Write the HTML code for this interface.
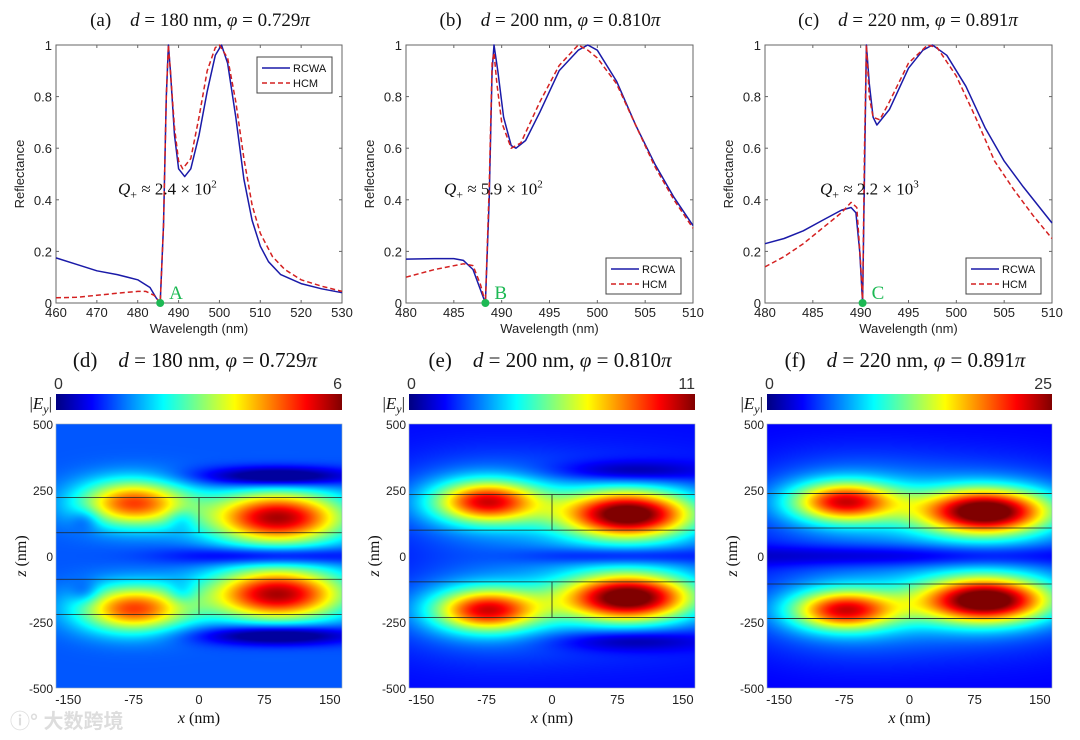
<!DOCTYPE html>
<html><head><meta charset="utf-8">
<style>
html,body{margin:0;padding:0;background:#fff;}
#wrap{position:relative;width:1080px;height:740px;overflow:hidden;}
canvas{position:absolute;}
svg{position:absolute;left:0;top:0;}
</style></head>
<body>
<div id="wrap">
<canvas id="hm-d"></canvas>
<canvas id="hm-e"></canvas>
<canvas id="hm-f"></canvas>
<svg id="fig" width="1080" height="740">
<defs>
<linearGradient id="jet" x1="0" x2="1" y1="0" y2="0">
<stop offset="0" stop-color="#000080"/><stop offset="0.125" stop-color="#0000ff"/>
<stop offset="0.375" stop-color="#00ffff"/><stop offset="0.625" stop-color="#ffff00"/>
<stop offset="0.875" stop-color="#ff0000"/><stop offset="1" stop-color="#800000"/>
</linearGradient>
</defs>
</svg>
</div>
<script>
// ---------- line chart data ----------
const xA_rcwa=[460,465,470,475,480,483,484.5,485.5,486.3,487,487.5,488,489,490,491.5,493,495,497,499,500.5,502,504,506,508,510,512,515,520,525,530];
const yA_rcwa=[0.175,0.15,0.125,0.11,0.09,0.06,0.02,0.0,0.3,0.8,1.0,0.9,0.65,0.52,0.49,0.52,0.65,0.82,0.96,1.0,0.93,0.72,0.48,0.32,0.22,0.16,0.11,0.075,0.055,0.04];
const xA_hcm=[460,465,470,475,480,482,484,485.5,486.3,487,487.5,488,489,490,491,493,495,497,499,500,502,504,506,508,510,513,516,520,525,530];
const yA_hcm=[0.02,0.022,0.03,0.038,0.045,0.045,0.03,0.0,0.3,0.8,1.0,0.9,0.68,0.55,0.52,0.56,0.72,0.9,0.99,1.0,0.95,0.78,0.56,0.38,0.27,0.18,0.13,0.09,0.065,0.045];
const xB_rcwa=[480,483,485,486,487,487.8,488.3,488.7,489,489.2,489.6,490.2,491,491.5,492.5,494,496,498,499,500,502,504,506,508,510];
const yB_rcwa=[0.17,0.172,0.172,0.165,0.13,0.05,0.0,0.4,0.9,1.0,0.9,0.72,0.61,0.6,0.63,0.74,0.9,0.98,1.0,0.98,0.86,0.69,0.54,0.41,0.3];
const xB_hcm=[480,483,486,487,487.8,488.3,488.7,489,489.2,489.5,490,491,492,494,496,498,499,500,502,504,506,508,510];
const yB_hcm=[0.1,0.13,0.152,0.145,0.07,0.0,0.45,0.93,0.97,0.85,0.7,0.6,0.62,0.78,0.92,1.0,0.98,0.95,0.85,0.69,0.53,0.4,0.29];
const xC_rcwa=[480,482,484,486,488,489,489.5,489.9,490.2,490.4,490.6,490.9,491.3,491.7,493,495,496.5,497.5,499,501,503,505,507,510];
const yC_rcwa=[0.23,0.25,0.28,0.32,0.36,0.37,0.35,0.2,0.0,0.5,1.0,0.85,0.72,0.69,0.75,0.91,0.98,1.0,0.96,0.84,0.68,0.55,0.45,0.31];
const xC_hcm=[480,482,484,486,488,489,489.6,490,490.2,490.4,490.6,490.9,491.3,492,493,495,497,498,500,502,504,506,508,510];
const yC_hcm=[0.14,0.18,0.23,0.29,0.35,0.39,0.37,0.15,0.0,0.6,1.0,0.8,0.72,0.71,0.78,0.93,1.0,0.99,0.88,0.72,0.55,0.44,0.34,0.25];
const xTicksA=[460,470,480,490,500,510,520,530];
const xTicksBC=[480,485,490,495,500,505,510];
const yTicks=[0,0.2,0.4,0.6,0.8,1];
const yTickLabels=['0','0.2','0.4','0.6','0.8','1'];
const minA=[485.5,0], minB=[488.3,0], minC=[490.2,0];
// ---------- heatmap data: blobs [x, z, amplitude, sx, sz] ----------
const blobsD=[[-75,200,0.6,44,62],[-75,-200,0.6,44,62],[90,145,0.75,55,70],[90,-145,0.75,55,70],[90,300,-0.3,60,26],[90,-300,-0.3,60,26],[85,0,-0.22,75,24],[-130,140,-0.1,12,30],[-20,140,-0.1,12,30],[-130,-140,-0.1,12,30],[-20,-140,-0.1,12,30]];
const blobsE=[[-75,205,0.62,42,55],[-75,-205,0.62,42,55],[88,158,0.82,52,62],[88,-158,0.82,52,62],[-75,205,0.14,80,120],[-75,-205,0.14,80,120],[88,158,0.12,95,130],[88,-158,0.12,95,130],[90,320,-0.16,60,28],[90,-320,-0.16,60,28],[80,0,-0.14,75,22]];
const blobsF=[[-75,205,0.62,42,52],[-75,-205,0.62,42,52],[88,168,0.84,52,60],[88,-168,0.84,52,60],[-75,205,0.15,80,120],[-75,-205,0.15,80,120],[88,168,0.14,95,130],[88,-168,0.14,95,130],[0,0,-0.14,170,28]];
const bgD=0.21, bgE=0.13, bgF=0.12;
const slabD=[221,88], slabE=[233,98], slabF=[237,106];
const cbMax=['6','11','25'];
const hmXTicks=[-150,-75,0,75,150];
const hmYTicks=[500,250,0,-250,-500];

const NS='http://www.w3.org/2000/svg';
const svg=document.getElementById('fig');
function mk(tag,attrs,parent){const e=document.createElementNS(NS,tag);for(const k in attrs)e.setAttribute(k,attrs[k]);(parent||svg).appendChild(e);return e;}
function txt(x,y,s,attrs,parent){const t=mk('text',Object.assign({x:x,y:y},attrs),parent);t.textContent=s;return t;}
const SANS='"Liberation Sans", Arial, sans-serif', SERIF='"Liberation Serif", "DejaVu Serif", serif';

function title(cx,y,label,d,phi,size){
  const t=mk('text',{x:cx,y:y,'text-anchor':'middle','font-family':SERIF,'font-size':size,fill:'#111'});
  
  
  t.innerHTML='('+label+')\u2003<tspan font-style="italic">d</tspan> = '+d+' nm, <tspan font-style="italic">\u03c6</tspan> = '+phi+'<tspan font-style="italic">\u03c0</tspan>';
}

function lineChart(p){
  const g=mk('g',{});
  
  
  const sx=v=>p.L+(v-p.xmin)/(p.xmax-p.xmin)*(p.R-p.L);
  const sy=v=>p.B-v*(p.B-p.T);
  mk('rect',{x:p.L,y:p.T,width:p.R-p.L,height:p.B-p.T,fill:'#fff',stroke:'#666','stroke-width':1},g);
  p.xticks.forEach(v=>{const x=sx(v);
    mk('line',{x1:x,x2:x,y1:p.B,y2:p.B-3,stroke:'#666'},g);mk('line',{x1:x,x2:x,y1:p.T,y2:p.T+3,stroke:'#666'},g);
    const t=txt(x,p.B+14,String(v),{'text-anchor':'middle','font-family':SANS,'font-size':13,fill:'#222'},g);
    });
  yTicks.forEach((v,i)=>{const y=sy(v);
    mk('line',{x1:p.L,x2:p.L+3,y1:y,y2:y,stroke:'#666'},g);mk('line',{x1:p.R,x2:p.R-3,y1:y,y2:y,stroke:'#666'},g);
    const t=txt(p.L-4,y+5,yTickLabels[i],{'text-anchor':'end','font-family':SANS,'font-size':13,fill:'#222'},g);
    });
  const xl=txt((p.L+p.R)/2,p.B+30,'Wavelength (nm)',{'text-anchor':'middle','font-family':SANS,'font-size':13,fill:'#222'},g);
  
  const yl=txt(0,0,'Reflectance',{'text-anchor':'middle','font-family':SANS,'font-size':13,fill:'#222',transform:'translate('+(p.L-32)+','+((p.T+p.B)/2)+') rotate(-90)'},g);
  
  const pts=(xs,ys)=>xs.map((x,i)=>sx(x).toFixed(1)+','+sy(ys[i]).toFixed(1)).join(' ');
  const l1=mk('polyline',{points:pts(p.xr,p.yr),fill:'none',stroke:'#1a1aa8','stroke-width':1.5,'stroke-linejoin':'round'},g);
  
  const l2=mk('polyline',{points:pts(p.xh,p.yh),fill:'none',stroke:'#d42020','stroke-width':1.5,'stroke-dasharray':'5,3','stroke-linejoin':'round'},g);
  
  const q=mk('text',{x:p.qx,y:sy(0.42),'font-family':SERIF,'font-size':17,fill:'#111'},g);
  
  q.innerHTML='<tspan font-style="italic">Q</tspan><tspan font-size="12" dy="4">+</tspan><tspan dy="-4"> \u2248 '+p.q+' \u00d7 10</tspan><tspan font-size="11" dy="-7">'+p.qe+'</tspan>';
  const dot=mk('circle',{cx:sx(p.min[0]),cy:sy(p.min[1]),r:4,fill:'#1db954'},g);
  
  const ml=txt(sx(p.min[0])+9,p.B-4,p.letter,{'font-family':SERIF,'font-size':19,fill:'#1db954'},g);
  
  const lg=mk('g',{},g);
  
  mk('rect',{x:p.lgx,y:p.lgy,width:75,height:36,fill:'#fff',stroke:'#444'},lg);
  mk('line',{x1:p.lgx+5,x2:p.lgx+33,y1:p.lgy+11,y2:p.lgy+11,stroke:'#1a1aa8','stroke-width':1.5},lg);
  mk('line',{x1:p.lgx+5,x2:p.lgx+33,y1:p.lgy+26,y2:p.lgy+26,stroke:'#d42020','stroke-width':1.5,'stroke-dasharray':'5,3'},lg);
  const e1=txt(p.lgx+36,p.lgy+15,'RCWA',{'font-family':SANS,'font-size':11,fill:'#111'},lg);
  
  const e2=txt(p.lgx+36,p.lgy+30,'HCM',{'font-family':SANS,'font-size':11,fill:'#111'},lg);
  
}

lineChart({id:'a',L:56,R:342,T:45,B:303,xmin:460,xmax:530,xticks:xTicksA,xr:xA_rcwa,yr:yA_rcwa,xh:xA_hcm,yh:yA_hcm,q:'2.4',qe:'2',qx:118,min:minA,letter:'A',lgx:257,lgy:57});
lineChart({id:'b',L:406,R:693,T:45,B:303,xmin:480,xmax:510,xticks:xTicksBC,xr:xB_rcwa,yr:yB_rcwa,xh:xB_hcm,yh:yB_hcm,q:'5.9',qe:'2',qx:444,min:minB,letter:'B',lgx:606,lgy:258});
lineChart({id:'c',L:765,R:1052,T:45,B:303,xmin:480,xmax:510,xticks:xTicksBC,xr:xC_rcwa,yr:yC_rcwa,xh:xC_hcm,yh:yC_hcm,q:'2.2',qe:'3',qx:820,min:minC,letter:'C',lgx:966,lgy:258});
title(200,26,'a','180','0.729',19);
title(550,26,'b','200','0.810',19);
title(908,26,'c','220','0.891',19);

function jet(v){const c=x=>Math.max(0,Math.min(1,x));return [c(1.5-Math.abs(4*v-3)),c(1.5-Math.abs(4*v-2)),c(1.5-Math.abs(4*v-1))];}

function heatmap(p){
  const W=p.R-p.L,H=p.B-p.T;
  const cv=document.getElementById(p.cid);
  cv.width=W;cv.height=H;cv.style.left=p.L+'px';cv.style.top=p.T+'px';
  const ctx=cv.getContext('2d');const im=ctx.createImageData(W,H);
  const xs=px=>-164+(px+0.5)/W*328, zs=py=>500-(py+0.5)/H*1000;
  for(let py=0;py<H;py++){const z=zs(py);for(let px=0;px<W;px++){const x=xs(px);
    let v=p.bg;p.blobs.forEach(b=>{const dx=(x-b[0])/b[3],dz=(z-b[1])/b[4];v+=b[2]*Math.exp(-0.5*(dx*dx+dz*dz));});
    v=Math.max(0.03,Math.min(1,v));const c=jet(v);const i=(py*W+px)*4;
    im.data[i]=c[0]*255;im.data[i+1]=c[1]*255;im.data[i+2]=c[2]*255;im.data[i+3]=255;}}
  ctx.putImageData(im,0,0);
  const g=mk('g',{});
  
  const sx=v=>p.L+(v+164)/328*W, sz=v=>p.B-(v+500)/1000*H;
  [p.slab[0],p.slab[1],-p.slab[1],-p.slab[0]].forEach(z=>mk('line',{x1:p.L,x2:p.R,y1:sz(z),y2:sz(z),stroke:'#222','stroke-width':0.8},g));
  mk('line',{x1:sx(0),x2:sx(0),y1:sz(p.slab[0]),y2:sz(p.slab[1]),stroke:'#222','stroke-width':0.8},g);
  mk('line',{x1:sx(0),x2:sx(0),y1:sz(-p.slab[1]),y2:sz(-p.slab[0]),stroke:'#222','stroke-width':0.8},g);
  mk('rect',{x:p.L,y:p.T,width:W,height:H,fill:'none',stroke:'#9ab','stroke-width':0.6},g);
  hmXTicks.forEach(v=>{const t=txt(sx(v),p.B+16,String(v),{'text-anchor':'middle','font-family':SANS,'font-size':13,fill:'#222'},g);
    });
  hmYTicks.forEach(v=>{const t=txt(p.L-3,sz(v)+5,String(v),{'text-anchor':'end','font-family':SANS,'font-size':12,fill:'#222'},g);
    });
  const xl=mk('text',{x:(p.L+p.R)/2,y:p.B+35,'text-anchor':'middle','font-family':SERIF,'font-size':16,fill:'#111'},g);
  
  xl.innerHTML='<tspan font-style="italic">x</tspan> (nm)';
  const yl=mk('text',{x:0,y:0,'text-anchor':'middle','font-family':SERIF,'font-size':16,fill:'#111',transform:'translate('+(p.L-30)+','+((p.T+p.B)/2)+') rotate(-90)'},g);
  
  yl.innerHTML='<tspan font-style="italic">z</tspan> (nm)';
  const cb=mk('g',{},g);
  
  mk('rect',{x:p.L,y:394,width:W,height:16,fill:'url(#jet)'},cb);
  txt(p.L-2,389,'0',{'font-family':SANS,'font-size':16,fill:'#333'},cb);
  txt(p.R,389,p.max,{'text-anchor':'end','font-family':SANS,'font-size':16,fill:'#333'},cb);
  const el=mk('text',{x:p.L-4,y:409,'text-anchor':'end','font-family':SERIF,'font-size':17,fill:'#111'},cb);
  
  el.innerHTML='|<tspan font-style="italic">E</tspan><tspan font-style="italic" font-size="12" dy="4">y</tspan><tspan dy="-4">|</tspan>';
}
heatmap({id:'d',cid:'hm-d',L:56,R:342,T:424,B:688,bg:bgD,blobs:blobsD,slab:slabD,max:cbMax[0]});
heatmap({id:'e',cid:'hm-e',L:409,R:695,T:424,B:688,bg:bgE,blobs:blobsE,slab:slabE,max:cbMax[1]});
heatmap({id:'f',cid:'hm-f',L:767,R:1052,T:424,B:688,bg:bgF,blobs:blobsF,slab:slabF,max:cbMax[2]});
title(195,367,'d','180','0.729',21);
title(550,367,'e','200','0.810',21);
title(905,367,'f','220','0.891',21);
const wm=txt(10,728,'\u24d8\u00b0 大数跨境',{'font-family':'"Liberation Sans","Noto Sans CJK SC",sans-serif','font-size':20,fill:'#ddd','font-weight':'bold'});

</script>
</body></html>
